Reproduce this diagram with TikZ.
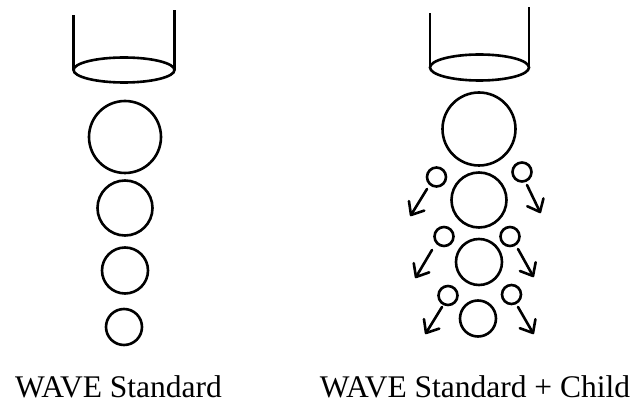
\documentclass[tikz,border=0pt]{standalone}
\usepackage{fontspec}
\setmainfont{Liberation Serif}
\usetikzlibrary{calc,shapes.geometric}
\begin{document}
\begin{tikzpicture}[x=1pt,y=-1pt,line width=2.6pt,
  drop/.style={circle,draw,inner sep=0pt,minimum size=#1},
  nozzle/.style={ellipse,draw,inner sep=0pt,outer sep=0pt,minimum width=101pt,minimum height=25pt},
  lbl/.style={font=\fontsize{31.5}{38}\selectfont,inner sep=0pt,anchor=base}]
\useasboundingbox (0,0) rectangle (641,406);
% left nozzle
\node[nozzle] (nl) at (124,70) {};
\coordinate (nlA) at (74,15);
\coordinate (nlB) at (174,10);
\draw (nl.west) -- (nl.west |- nlA);
\draw (nl.east) -- (nl.east |- nlB);
% left drops
\node[drop=72pt] (l1) at (125,137) {};
\node[drop=55pt] (l2) at (125,208) {};
\node[drop=46pt] (l3) at (125,270.5) {};
\node[drop=36pt] (l4) at (124,327) {};
% right nozzle
\node[nozzle,minimum width=99pt,minimum height=26pt] (nr) at (479.5,67.5) {};
\coordinate (nrA) at (430.5,13);
\coordinate (nrB) at (528.5,7);
\draw (nr.west) -- (nr.west |- nrA);
\draw (nr.east) -- (nr.east |- nrB);
% right drops
\node[drop=73pt] (r1) at (479,129) {};
\node[drop=55pt] (r2) at (479,200) {};
\node[drop=46pt] (r3) at (479,262) {};
\node[drop=36pt] (r4) at (478,318.5) {};
% child drops
\node[drop=19pt] (c1l) at (436.5,177) {};
\node[drop=19pt] (c1r) at (522,172) {};
\node[drop=19pt] (c2l) at (444,236.5) {};
\node[drop=19pt] (c2r) at (510,236.5) {};
\node[drop=19pt] (c3l) at (448,295.5) {};
\node[drop=19pt] (c3r) at (511.5,294.5) {};
% arrows
\coordinate (a1ls) at (427,189); \coordinate (a1le) at (411,215);
\coordinate (a1rs) at (527,185); \coordinate (a1re) at (540,212);
\coordinate (a2ls) at (432,250); \coordinate (a2le) at (416,277);
\coordinate (a2rs) at (518,249); \coordinate (a2re) at (533,276);
\coordinate (a3ls) at (442,307); \coordinate (a3le) at (426,333);
\coordinate (a3rs) at (518,307); \coordinate (a3re) at (533,333);
\foreach \s/\e in {a1ls/a1le,a1rs/a1re,a2ls/a2le,a2rs/a2re,a3ls/a3le,a3rs/a3re}{
  \draw[line cap=round] (\s) -- (\e);
  \draw[line cap=round,line join=round] ($(\e)!14pt!40:(\s)$) -- (\e) -- ($(\e)!14pt!-40:(\s)$);
}
% labels
\node[lbl] (t1) at (118.5,398) {WAVE Standard};
\node[lbl] (t2) at (475,398) {WAVE Standard + Child};
\end{tikzpicture}
\end{document}
